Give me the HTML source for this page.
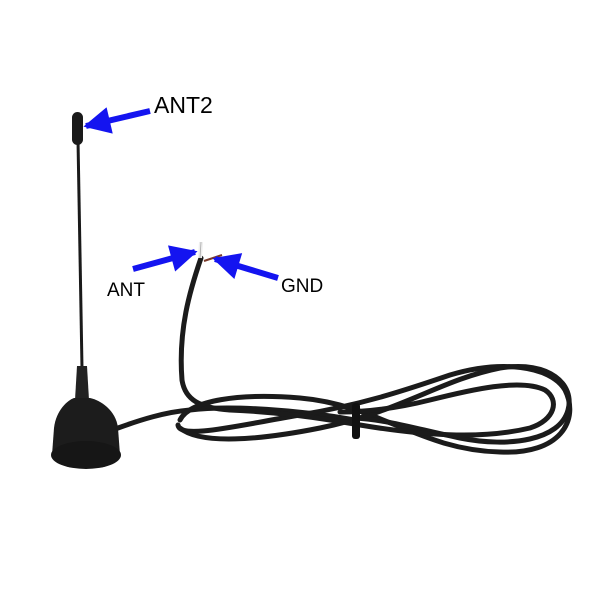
<!DOCTYPE html>
<html><head><meta charset="utf-8"><style>
body{margin:0;background:#fff}
svg{display:block}
text{font-family:"Liberation Sans",sans-serif;fill:#000}
</style></head><body>
<svg width="600" height="600" viewBox="0 0 600 600" xmlns="http://www.w3.org/2000/svg">
<defs>
<marker id="ah" viewBox="0 0 10 10" refX="9" refY="5" markerWidth="5.5" markerHeight="4.5" orient="auto" markerUnits="strokeWidth">
<path d="M0,0 L10,5 L0,10 z" fill="#1414f0"/></marker>
</defs>
<path d="M78,140 L82,368" stroke="#1a1a1a" stroke-width="3" fill="none"/>
<rect x="72" y="112" width="11" height="33" rx="5.5" fill="#1a1a1a"/>
<path d="M77,366 L87,366 L89,400 L75,400 Z" fill="#222"/>
<path d="M74,398 L90,398 C100,400 116,410 118,428 L120,455 L52,455 L54,428 C56,410 68,400 74,398 Z" fill="#1c1c1c"/>
<ellipse cx="86" cy="455" rx="35" ry="14" fill="#161616"/>
<g stroke="#1b1b1b" stroke-width="5" fill="none" stroke-linecap="round">
<path d="M118,428 C140,420 165,412 190,410 C230,405 300,410 355,420"/>
<path d="M201,258 C190,290 178,330 182,380 C185,400 200,408 230,410"/>
<path d="M180,420 C190,400 240,393 300,398 C380,405 420,450 500,452 C560,455 580,420 565,390 C550,365 500,360 450,375 C400,392 360,405 300,415 C240,425 180,440 178,425"/>
<path d="M180,428 C200,445 260,440 320,428 C400,412 440,380 500,368 C550,360 575,385 568,410 C560,440 510,448 460,438 C420,430 390,420 355,418"/>
<path d="M230,410 C280,412 320,418 360,425 C420,435 480,440 530,428 C555,420 560,400 545,390 C520,378 470,390 430,400 C390,410 360,412 340,412"/>
</g>
<rect x="352" y="403" width="8" height="36" rx="3" fill="#111"/>
<path d="M200,258 L201,242" stroke="#eee" stroke-width="4"/>
<path d="M200,258 L201,242" stroke="#aaa" stroke-width="0.8"/>
<path d="M204,261 L222,255" stroke="#7a3a2a" stroke-width="2"/>
<g stroke="#1414f0" stroke-width="6" fill="none">
<path d="M150,111 L86,126" marker-end="url(#ah)"/>
<path d="M133,269 L195,252" marker-end="url(#ah)"/>
<path d="M278,278 L215,259" marker-end="url(#ah)"/>
</g>
<text x="154" y="113" font-size="23">ANT2</text>
<text x="107" y="296" font-size="19">ANT</text>
<text x="281" y="292" font-size="19">GND</text>
</svg>
</body></html>
